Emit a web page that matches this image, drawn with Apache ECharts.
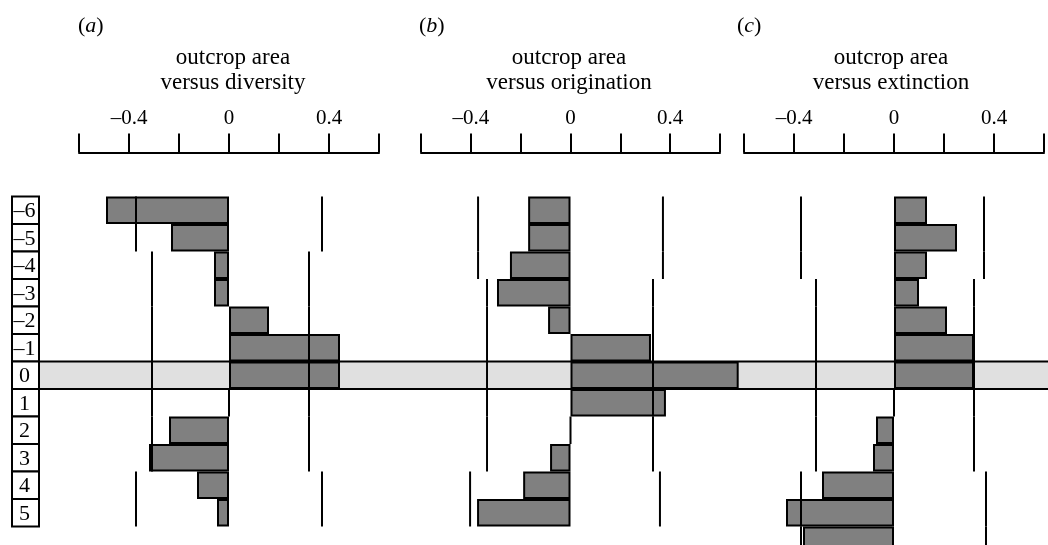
<!DOCTYPE html>
<html>
<head>
<meta charset="utf-8">
<script src="https://cdn.jsdelivr.net/npm/echarts@6/dist/echarts.min.js"></script>
<style>html,body{margin:0;padding:0;background:#fff;}#chart{width:1048px;height:545px;}</style>
</head>
<body>
<div id="chart"></div>
<script>
// ---- data ----
const rows = ['-6','-5','-4','-3','-2','-1','0','1','2','3','4','5','6'];
const rowLabels = ['–6','–5','–4','–3','–2','–1','0','1','2','3','4','5'];
const bandRows = ['0'];
const tickValues = [-0.4, 0, 0.4];
const tickLabels = ['–0.4', '0', '0.4'];
const panelLetters = ['a', 'b', 'c'];
const panelTitles = ['outcrop area\nversus diversity', 'outcrop area\nversus origination', 'outcrop area\nversus extinction'];

const diversity   = [-0.492, -0.232, -0.06, -0.06, 0.16, 0.444, 0.444, 0, -0.24, -0.32, -0.128, -0.048, null];
const origination = [-0.17, -0.17, -0.243, -0.295, -0.09, 0.323, 0.675, 0.383, 0, -0.082, -0.19, -0.375, null];
const extinction  = [0.132, 0.252, 0.132, 0.10, 0.212, 0.32, 0.32, 0, -0.072, -0.084, -0.288, -0.432, -0.364];

const divLow   = [-0.372, -0.372, -0.308, -0.308, -0.308, -0.308, -0.308, -0.308, -0.308, -0.308, -0.372, -0.372, null];
const divHigh  = [0.372, 0.372, 0.32, 0.32, 0.32, 0.32, 0.32, 0.32, 0.32, 0.32, 0.372, 0.372, null];
const origLow  = [-0.371, -0.371, -0.371, -0.335, -0.335, -0.335, -0.335, -0.335, -0.335, -0.335, -0.403, -0.403, null];
const origHigh = [0.371, 0.371, 0.371, 0.331, 0.331, 0.331, 0.331, 0.331, 0.331, 0.331, 0.359, 0.359, null];
const extLow   = [-0.372, -0.372, -0.372, -0.312, -0.312, -0.312, -0.312, -0.312, -0.312, -0.312, -0.372, -0.372, -0.372];
const extHigh  = [0.36, 0.36, 0.36, 0.32, 0.32, 0.32, 0.32, 0.32, 0.32, 0.32, 0.368, 0.368, 0.368];

// ---- layout ----
const FONT = '"Liberation Serif", "Times New Roman", serif';
const TOP = 196.5, ROWH = 27.5, H = ROWH * rows.length;
const panels = [
  {left: 79, width: 300, values: diversity, low: divLow, high: divHigh, titleX: 233, letterX: 78},
  {left: 421, width: 299, values: origination, low: origLow, high: origHigh, titleX: 569, letterX: 419},
  {left: 744, width: 300, values: extinction, low: extLow, high: extHigh, titleX: 891, letterX: 737}
];

const grids = [
  {left: 12, width: 27, top: TOP, height: H, outerBoundsMode: 'none'},     // row labels
  {left: 39, width: 1020, top: TOP, height: H, outerBoundsMode: 'none'}    // band
];
const xAxes = [
  {gridIndex: 0, type: 'value', min: 0, max: 1, show: false},
  {gridIndex: 1, type: 'value', min: 0, max: 1, show: false}
];
const yAxes = [
  {gridIndex: 0, type: 'category', data: rows, inverse: true, show: false},
  {gridIndex: 1, type: 'category', data: rows, inverse: true, show: false}
];
const series = [
  {
    type: 'custom', xAxisIndex: 1, yAxisIndex: 1, z: 1, silent: true, clip: false,
    data: bandRows.map(r => [0, rows.indexOf(r)]),
    encode: {x: 0, y: 1},
    renderItem: (params, api) => {
      const i = api.value(1);
      const p0 = api.coord([0, i]), p1 = api.coord([1, i]);
      const h = api.size([1, 1])[1];
      const y0 = p0[1] - h / 2, y1 = p0[1] + h / 2;
      return {type: 'group', children: [
        {type: 'rect', shape: {x: p0[0], y: y0, width: p1[0] - p0[0], height: h}, style: {fill: '#e0e0e0'}},
        {type: 'line', shape: {x1: p0[0], y1: y0, x2: p1[0], y2: y0}, style: {stroke: '#000', lineWidth: 2}},
        {type: 'line', shape: {x1: p0[0], y1: y1, x2: p1[0], y2: y1}, style: {stroke: '#000', lineWidth: 2}}
      ]};
    }
  },
  {
    type: 'custom', xAxisIndex: 0, yAxisIndex: 0, z: 5, silent: true, clip: false,
    data: rowLabels.map((t, i) => [0, i]),
    encode: {x: 0, y: 1},
    renderItem: (params, api) => {
      const i = api.value(1);
      const p0 = api.coord([0, i]), p1 = api.coord([1, i]);
      const h = api.size([1, 1])[1];
      return {type: 'group', children: [
        {type: 'rect', shape: {x: p0[0], y: p0[1] - h / 2, width: p1[0] - p0[0], height: h},
         style: {fill: '#fff', stroke: '#000', lineWidth: 2}},
        {type: 'text', style: {text: rowLabels[params.dataIndex], x: (p0[0] + p1[0]) / 2 - 1, y: p0[1] + 1,
          align: 'center', verticalAlign: 'middle', fontSize: 22, fontFamily: FONT, fill: '#000'}}
      ]};
    }
  }
];

const graphics = [];
panels.forEach((p, k) => {
  const gi = k + 2;
  grids.push({left: p.left, width: p.width, top: TOP, height: H, outerBoundsMode: 'none'});
  xAxes.push({
    gridIndex: gi, type: 'value', position: 'top', offset: 44,
    min: -0.6, max: 0.6, interval: 0.2,
    axisLine: {show: true, lineStyle: {color: '#000', width: 2}},
    axisTick: {show: true, length: 19, lineStyle: {color: '#000', width: 2}},
    axisLabel: {
      margin: 24, fontSize: 21, fontFamily: FONT, color: '#000',
      formatter: v => {
        const j = tickValues.findIndex(t => Math.abs(t - v) < 1e-6);
        return j >= 0 ? tickLabels[j] : '';
      }
    },
    splitLine: {show: false}
  });
  yAxes.push({gridIndex: gi, type: 'category', data: rows, inverse: true, show: false});
  series.push({
    type: 'bar', xAxisIndex: gi, yAxisIndex: gi, z: 2, silent: true, clip: false,
    data: p.values, barCategoryGap: '0%',
    itemStyle: {color: '#808080', borderColor: '#000', borderWidth: 2}
  });
  series.push({
    type: 'custom', xAxisIndex: gi, yAxisIndex: gi, z: 4, silent: true, clip: false,
    data: rows.map((r, i) => [p.low[i], p.high[i], i]).filter(d => d[0] !== null),
    encode: {x: [0, 1], y: 2},
    renderItem: (params, api) => {
      const i = api.value(2);
      const lo = api.coord([api.value(0), i]), hi = api.coord([api.value(1), i]);
      const h = api.size([1, 1])[1];
      const y0 = lo[1] - h / 2, y1 = lo[1] + h / 2;
      return {type: 'group', children: [
        {type: 'line', shape: {x1: lo[0], y1: y0, x2: lo[0], y2: y1}, style: {stroke: '#000', lineWidth: 2}},
        {type: 'line', shape: {x1: hi[0], y1: y0, x2: hi[0], y2: y1}, style: {stroke: '#000', lineWidth: 2}}
      ]};
    }
  });
  graphics.push({
    type: 'text', x: p.letterX, y: 26, silent: true,
    style: {
      text: '{n|(}{i|' + panelLetters[k] + '}{n|)}', verticalAlign: 'middle', align: 'left',
      rich: {
        n: {fontSize: 22, fontFamily: FONT, fill: '#000'},
        i: {fontSize: 22, fontFamily: FONT, fontStyle: 'italic', fill: '#000'}
      }
    }
  });
  graphics.push({
    type: 'text', x: p.titleX, y: 45, silent: true,
    style: {text: panelTitles[k], align: 'center', verticalAlign: 'top',
      fontSize: 23, lineHeight: 25, fontFamily: FONT, fill: '#000'}
  });
});

const chart = echarts.init(document.getElementById('chart'));
chart.setOption({
  animation: false,
  backgroundColor: '#fff',
  grid: grids,
  xAxis: xAxes,
  yAxis: yAxes,
  series: series,
  graphic: graphics
});
</script>
</body>
</html>
